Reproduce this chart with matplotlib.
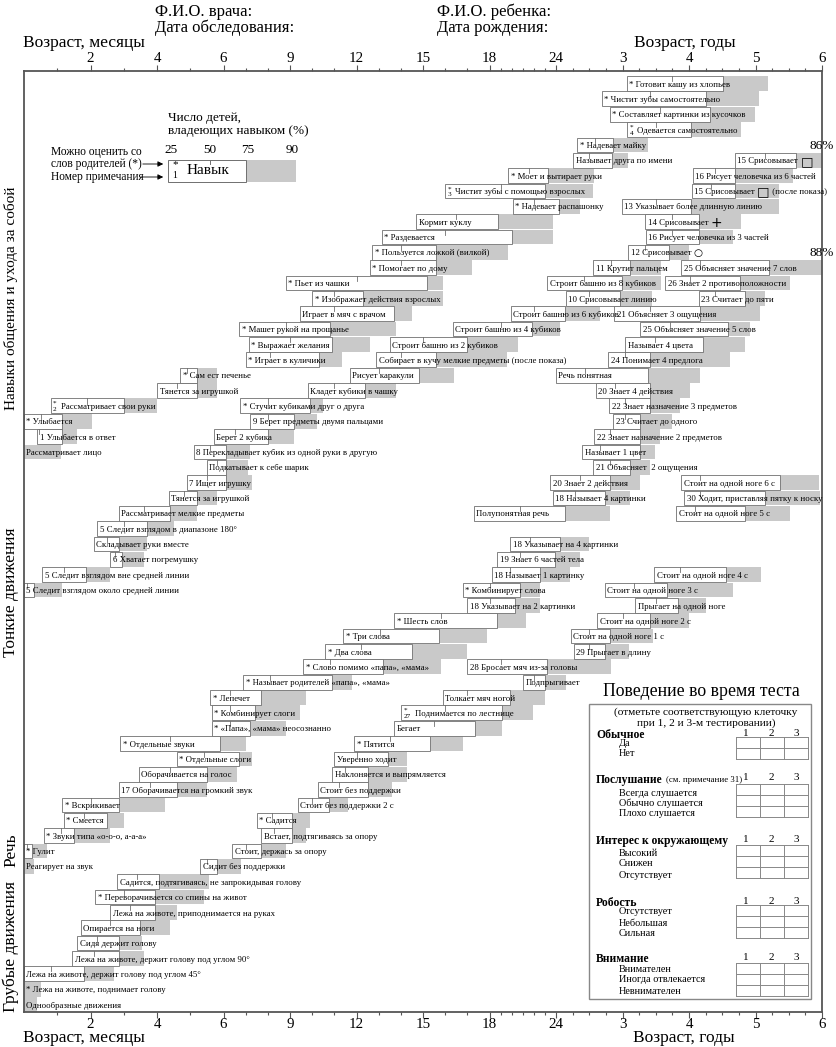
import numpy as np
import matplotlib
matplotlib.use('Agg')
import matplotlib.pyplot as plt
from matplotlib.patches import Rectangle

plt.rcParams['font.family'] = ['Liberation Serif', 'DejaVu Sans']

# ось возраста: месяцы до 2 лет, дальше годы (нелинейная шкала)
age_breaks = [0, 2, 4, 6, 9, 12, 15, 18, 24, 36, 48, 60, 72]
major_ticks = [2, 4, 6, 9, 12, 15, 18, 24, 36, 48, 60, 72]
major_labels = ['2', '4', '6', '9', '12', '15', '18', '24', '3', '4', '5', '6']
minor_ticks = [1, 3, 5, 7, 8, 10, 11, 13, 14, 16, 17, 19, 20, 21, 22, 23,
               27, 30, 33, 39, 42, 45, 51, 54, 57, 63, 66, 69]

# ---- Навыки общения и ухода за собой ----
ps_labels = ['* Готовит кашу из хлопьев', '* Чистит зубы самостоятельно',
             '* Составляет картинки из кусочков', '^4 Одевается самостоятельно',
             '* Надевает майку', 'Называет друга по имени', '* Моет и вытирает руки',
             '^3 Чистит зубы с помощью взрослых', '* Надевает распашонку', 'Кормит куклу',
             '* Раздевается', '* Пользуется ложкой (вилкой)', '* Помогает по дому',
             '* Пьет из чашки', '* Изображает действия взрослых', 'Играет в мяч с врачом',
             '* Машет рукой на прощанье', '* Выражает желания', '* Играет в куличики',
             '* Сам ест печенье', 'Тянется за игрушкой', '^2 Рассматривает свои руки',
             '* Улыбается', '1 Улыбается в ответ', 'Рассматривает лицо']
ps_rows = list(range(0, 25))
ps_p25 = [36.8, 32.3, 33.7, 36.8, 27.8, 27.1, 19.7, 16.0, 20.1, 14.7, 13.15, 12.7, 12.6,
          8.8, 10.0, 9.45, 6.7, 7.15, 7.0, 4.7, 4.0, 0.8, 0.0, 0.4, 0.0]
ps_p50 = [45.0, 41.0, 42.8, 42.0, 31.0, 30.0, 21.6, 19.0, 22.0, 16.5, 16.0, 14.0, 14.0,
          12.0, 11.0, 11.0, 8.8, 9.0, 8.1, 4.9, 4.6, 1.9, 0.5, 0.45, 0.0]
ps_p75 = [54.1, 51.1, 51.8, 48.4, 34.3, 34.1, 23.3, 23.0, 24.5, 18.8, 20.0, 15.6, 15.6,
          15.2, 12.3, 13.7, 10.8, 10.9, 10.3, 5.2, 5.2, 3.0, 1.15, 1.15, 0.0]
ps_p90 = [62.3, 60.6, 59.9, 57.4, 40.6, 37.0, 30.8, 30.7, 28.3, 23.7, 23.7, 19.7, 17.2,
          15.9, 15.9, 14.5, 13.8, 12.6, 11.35, 5.8, 5.8, 4.0, 2.05, 1.6, 1.1]

# ---- Тонкие движения ----
fm_labels = ['15 Срисовывает □', '16 Рисует человечка из 6 частей',
             '15 Срисовывает □ (после показа)', '13 Указывает более длинную линию',
             '14 Срисовывает +', '16 Рисует человечка из 3 частей', '12 Срисовывает ○',
             '11 Крутит пальцем', 'Строит башню из 8 кубиков', '10 Срисовывает линию',
             'Строит башню из 6 кубиков', 'Строит башню из 4 кубиков',
             'Строит башню из 2 кубиков', 'Собирает в кучу мелкие предметы (после показа)',
             'Рисует каракули', 'Кладет кубики в чашку', '* Стучит кубиками друг о друга',
             '9 Берет предметы двумя пальцами', 'Берет 2 кубика',
             '8 Перекладывает кубик из одной руки в другую', 'Подкатывает к себе шарик',
             '7 Ищет игрушку', 'Тянется за игрушкой', 'Рассматривает мелкие предметы',
             '5 Следит взглядом в диапазоне 180°', 'Складывает руки вместе',
             '6 Хватает погремушку', '5 Следит взглядом вне средней линии',
             '5 Следит взглядом около средней линии']
fm_rows = list(range(5, 34))
fm_p25 = [56.3, 48.7, 48.5, 35.9, 40.1, 40.2, 37.0, 30.7, 23.2, 25.8, 19.9, 16.35, 13.5,
          12.9, 11.7, 9.8, 6.75, 7.2, 5.7, 5.1, 5.5, 4.9, 4.35, 2.85, 2.2, 2.1, 2.6, 0.55, 0.0]
fm_p50 = [61.7, 52.7, 52.0, 42.0, 45.0, 45.0, 40.0, 34.0, 29.0, 30.0, 22.0, 19.0, 15.0,
          14.0, 13.0, 11.0, 8.0, 8.0, 6.5, 5.6, 5.8, 5.5, 4.8, 3.6, 3.0, 2.5, 2.75, 1.2, 0.1]
fm_p75 = [67.3, 56.3, 56.3, 48.4, 49.8, 49.8, 44.4, 37.4, 35.9, 35.5, 25.6, 21.85, 17.0,
          15.6, 14.8, 12.4, 9.9, 9.2, 8.0, 6.1, 6.1, 6.1, 5.2, 4.4, 3.7, 2.85, 2.95, 1.85, 0.3]
fm_p90 = [72.0, 66.8, 64.2, 64.2, 57.4, 56.0, 48.0, 43.0, 43.0, 41.3, 31.9, 24.7, 20.6,
          19.6, 16.4, 13.8, 10.5, 10.2, 9.2, 7.2, 7.1, 7.3, 5.8, 5.2, 4.5, 3.7, 3.6, 2.6, 1.15]

# ---- Речь ----
sp_labels = ['25 Объясняет значение 7 слов', '26 Знает 2 противоположности',
             '23 Считает до пяти', '21 Объясняет 3 ощущения', '25 Объясняет значение 5 слов',
             'Называет 4 цвета', '24 Понимает 4 предлога', 'Речь понятная',
             '20 Знает 4 действия', '22 Знает назначение 3 предметов', '23 Считает до одного',
             '22 Знает назначение 2 предметов', 'Называет 1 цвет', '21 Объясняет  2 ощущения',
             '20 Знает 2 действия', '18 Называет 4 картинки', 'Полупонятная речь',
             '18 Указывает на 4 картинки', '19 Знает 6 частей тела', '18 Называет 1 картинку',
             '* Комбинирует слова', '18 Указывает на 2 картинки', '* Шесть слов',
             '* Три слова', '* Два слова', '* Слово помимо «папа», «мама»',
             '* Называет родителей «папа», «мама»', '* Лепечет', '* Комбинирует слоги',
             '* «Папа», «мама» неосознанно', '* Отдельные звуки', '* Отдельные слоги',
             'Оборачивается на голос', '17 Оборачивается на громкий звук', '* Вскрикивает',
             '* Смеется', '* Звуки типа «о-о-о, а-а-а»', '* Гулит', 'Реагирует на звук']
sp_rows = list(range(12, 29)) + list(range(30, 52))
sp_p25 = [46.6, 43.7, 49.8, 34.5, 39.2, 36.5, 33.4, 24.0, 31.2, 33.6, 34.3, 30.9, 28.7,
          30.7, 23.5, 23.7, 17.3, 19.85, 18.7, 18.2, 16.8, 17.0, 13.7, 11.4, 10.6, 9.6,
          6.9, 5.6, 5.65, 5.65, 2.9, 4.6, 3.45, 2.85, 1.15, 1.2, 0.6, 0.0, 0.0]
sp_p50 = [50.0, 48.2, 52.7, 41.0, 44.6, 41.9, 36.5, 29.2, 34.6, 36.5, 36.5, 33.7, 31.9,
          33.7, 28.3, 27.4, 20.75, 21.65, 20.75, 19.85, 18.0, 18.0, 15.8, 13.05, 12.2,
          10.8, 8.1, 6.3, 6.3, 6.3, 4.4, 5.4, 4.4, 3.8, 2.0, 1.8, 1.1, 0.1, 0.0]
sp_p75 = [62.4, 57.2, 58.1, 50.0, 55.0, 50.5, 41.0, 40.6, 41.0, 41.0, 39.2, 39.2, 39.2,
          37.4, 33.7, 32.8, 25.6, 24.7, 23.9, 22.6, 20.75, 20.3, 18.7, 15.7, 14.5, 13.2,
          10.9, 7.7, 7.4, 7.2, 5.9, 6.7, 5.5, 4.6, 2.85, 2.5, 1.5, 0.25, 0.0]
sp_p90 = [72.0, 66.2, 61.7, 60.8, 59.0, 58.1, 55.4, 50.0, 48.2, 46.4, 44.9, 42.8, 41.9,
          41.0, 39.2, 37.4, 33.7, 30.0, 28.3, 26.5, 22.6, 22.6, 21.3, 17.9, 17.0, 15.8,
          11.8, 9.7, 9.45, 8.8, 7.0, 7.3, 6.6, 5.5, 4.25, 3.0, 2.6, 0.7, 0.3]

# ---- Грубые движения ----
gm_labels = ['Стоит на одной ноге 6 с', '30 Ходит, приставляя пятку к носку',
             'Стоит на одной ноге 5 с', 'Стоит на одной ноге 4 с', 'Стоит на одной ноге 3 с',
             'Прыгает на одной ноге', 'Стоит на одной ноге 2 с', 'Стоит на одной ноге 1 с',
             '29 Прыгает в длину', '28 Бросает мяч из-за головы', 'Подпрыгивает',
             'Толкает мяч ногой', '^27 Поднимается по лестнице', 'Бегает', '* Пятится',
             'Уверенно ходит', 'Наклоняется и выпрямляется', 'Стоит без поддержки',
             'Стоит без поддержки 2 с', '* Садится', 'Встает, подтягиваясь за опору',
             'Стоит, держась за опору', 'Сидит без поддержки',
             'Садится, подтягиваясь, не запрокидывая голову',
             '* Переворачивается со спины на живот', 'Лежа на животе, приподнимается на руках',
             'Опирается на ноги', 'Сидя держит голову',
             'Лежа на животе, держит голову под углом 90°',
             'Лежа на животе, держит голову под углом 45°',
             '* Лежа на животе, поднимает голову', 'Однообразные движения']
gm_rows = [26, 27, 28] + list(range(32, 61))
gm_p25 = [46.6, 47.1, 45.7, 41.7, 32.8, 38.3, 31.4, 26.7, 27.2, 17.0, 21.0, 15.9, 14.0,
          13.7, 11.9, 11.0, 10.9, 10.25, 9.35, 7.5, 7.7, 6.4, 5.3, 2.8, 2.15, 2.6, 1.7,
          1.6, 1.45, 0.0, 0.0, 0.0]
gm_p50 = [50.0, 50.0, 49.0, 46.4, 38.0, 42.0, 36.0, 30.0, 30.0, 19.0, 22.0, 17.0, 16.0,
          15.5, 13.5, 12.0, 11.5, 11.2, 10.0, 8.2, 8.3, 7.0, 5.5, 3.4, 3.0, 3.2, 2.6,
          2.2, 2.1, 0.8, 0.0, 0.0]
gm_p75 = [64.4, 61.7, 58.1, 54.7, 44.0, 46.0, 41.0, 33.7, 32.8, 23.2, 23.0, 19.85, 19.1,
          17.35, 15.3, 13.4, 12.5, 12.5, 10.75, 9.1, 9.1, 7.7, 5.8, 4.05, 3.95, 3.95, 3.5,
          2.85, 2.85, 1.8, 0.0, 0.0]
gm_p90 = [71.5, 71.6, 66.2, 61.0, 55.9, 51.0, 48.0, 41.5, 37.2, 33.9, 25.8, 23.0, 21.9,
          19.1, 16.8, 14.3, 14.3, 13.6, 11.6, 9.9, 9.7, 8.8, 6.8, 5.55, 5.4, 4.6, 4.4,
          3.55, 3.6, 2.7, 0.5, 0.4]

sections = [
    (ps_labels, ps_rows, ps_p25, ps_p50, ps_p75, ps_p90),
    (fm_labels, fm_rows, fm_p25, fm_p50, fm_p75, fm_p90),
    (sp_labels, sp_rows, sp_p25, sp_p50, sp_p75, sp_p90),
    (gm_labels, gm_rows, gm_p25, gm_p50, gm_p75, gm_p90),
]

GRAY = '#c9c9c9'
EDGE = '#6f6f6f'
BOX_H = 0.96
FS = 6.3
DY = -0.8  # небольшой сдвиг подписи вниз, чтобы буквы сидели по центру рамки
ICON_FS = {'□': 9.5, '○': 7.5, '+': 10}


def fwd(x):
    return np.interp(x, age_breaks, np.arange(len(age_breaks)))


def inv(u):
    return np.interp(u, np.arange(len(age_breaks)), age_breaks)


W, H = 836, 1047
fig = plt.figure(figsize=(W / 100, H / 100), dpi=100)
renderer = fig.canvas.get_renderer()
ax = fig.add_axes([24 / W, 1 - 1012 / H, (822 - 24) / W, (1012 - 71) / H])
ax.set_xscale('function', functions=(fwd, inv))
ax.set_xlim(0, 72)
row0, row_px = 83.5, 15.35
ax.set_ylim((1012 - row0) / row_px, (71 - row0) / row_px)

ax.set_xticks(major_ticks)
ax.set_xticklabels(major_labels)
ax.set_xticks(minor_ticks, minor=True)
ax.tick_params(axis='x', which='both', top=True, bottom=True, labeltop=True,
               labelbottom=True, direction='out', color='#555555', labelsize=10.8, pad=0.3)
ax.tick_params(axis='x', which='major', length=4.2, width=0.8)
ax.tick_params(axis='x', which='minor', length=2.4, width=0.8)
ax.set_yticks([])
for s in ax.spines.values():
    s.set_color('#555555')
    s.set_linewidth(1.3)


def put_text(txt, a, r, dx, fs=FS, **kw):
    t = ax.annotate(txt, xy=(a, r), xytext=(dx, DY), textcoords='offset points',
                    ha='left', va='center', fontsize=fs, zorder=4, **kw)
    return dx + t.get_window_extent(renderer).width * 72 / fig.dpi


def draw_items(labels, rows, p25, p50, p75, p90):
    for lab, r, a, b, c, d in zip(labels, rows, p25, p50, p75, p90):
        top = r - BOX_H / 2
        if d > c:
            ax.add_patch(Rectangle((c, top), d - c, BOX_H, facecolor=GRAY,
                                   edgecolor='none', zorder=1))
        if c > a:
            ax.add_patch(Rectangle((a, top), c - a, BOX_H, facecolor='white',
                                   edgecolor=EDGE, lw=0.6, zorder=2))
            ax.plot([b, b], [top, top + 0.33], color=EDGE, lw=0.6, zorder=3)
        dx = 1.8
        if lab.startswith('^'):
            num, lab = lab[1:].split(' ', 1)
            ax.annotate('*', xy=(a, r), xytext=(dx, 1.6), textcoords='offset points',
                        ha='left', va='center', fontsize=5.2, zorder=4)
            ax.annotate(num, xy=(a, r), xytext=(dx, -2.9), textcoords='offset points',
                        ha='left', va='center', fontsize=5.2, zorder=4)
            dx = 4.5 + 2.7 * len(num)
        icon = next((ch for ch in ICON_FS if ' ' + ch in lab), None)
        if icon is None:
            put_text(lab, a, r, dx)
        else:
            head, tail = lab.split(' ' + icon, 1)
            dx = put_text(head, a, r, dx) + 1.5
            dx = put_text(icon, a, r, dx, fs=ICON_FS[icon], family=['DejaVu Sans'])
            if tail:
                put_text(tail, a, r, dx)


for sec in sections:
    draw_items(*sec)

ax.text(72, 4.1, '86%', ha='center', va='center', fontsize=9.5, clip_on=False)
ax.text(72, 11.05, '88%', ha='center', va='center', fontsize=9.5, clip_on=False)

# ---- надписи вокруг графика (в пикселях картинки) ----
ov = fig.add_axes([0, 0, 1, 1], zorder=5)
ov.set_xlim(0, W)
ov.set_ylim(H, 0)
ov.axis('off')

ov.text(155, 12, 'Ф.И.О. врача:', fontsize=12, va='center')
ov.text(155, 28, 'Дата обследования:', fontsize=12, va='center')
ov.text(437, 12, 'Ф.И.О. ребенка:', fontsize=12, va='center')
ov.text(437, 28, 'Дата рождения:', fontsize=12, va='center')
ov.text(23, 43, 'Возраст, месяцы', fontsize=12.5, va='center')
ov.text(634, 43, 'Возраст, годы', fontsize=12.5, va='center')
ov.text(23, 1038, 'Возраст, месяцы', fontsize=12.5, va='center')
ov.text(633, 1038, 'Возраст, годы', fontsize=12.5, va='center')

for txt, yc, fs in [('Навыки общения и ухода за собой', 298, 11),
                    ('Тонкие движения', 592, 12.5),
                    ('Речь', 850, 12.5), ('Грубые движения', 947, 12.5)]:
    ov.text(11, yc, txt, rotation=90, ha='center', va='center', fontsize=fs)

# легенда
ov.text(168, 118, 'Число детей,', fontsize=9.5, va='center')
ov.text(168, 131, 'владеющих навыком (%)', fontsize=9.5, va='center')
for t, xc in [('25', 171), ('50', 210), ('75', 248), ('90', 292)]:
    ov.text(xc, 150, t, fontsize=9.5, ha='center', va='center')
ov.add_patch(Rectangle((246, 160), 50, 22, facecolor=GRAY, edgecolor='none'))
ov.add_patch(Rectangle((168, 160), 78, 22, facecolor='white', edgecolor=EDGE, lw=0.7))
ov.plot([210, 210], [160, 164], color=EDGE, lw=0.7)
ov.text(172, 165, '*', fontsize=8, va='center')
ov.text(172, 176, '1', fontsize=7, va='center')
ov.text(187, 171, 'Навык', fontsize=11, va='center')
ov.text(51, 152, 'Можно оценить со', fontsize=8.3, va='center')
ov.text(51, 164, 'слов родителей (*)', fontsize=8.3, va='center')
ov.text(51, 177, 'Номер примечания', fontsize=8.3, va='center')
for y0, x0 in [(164, 140), (177, 138)]:
    ov.annotate('', xy=(166, y0), xytext=(x0, y0),
                arrowprops=dict(arrowstyle='-|>', color='black', lw=0.6,
                                mutation_scale=8))

# поведение во время теста
ov.text(701, 692, 'Поведение во время теста', fontsize=12.8, ha='center', va='center')
ov.add_patch(Rectangle((589, 704), 222, 295, facecolor='white', edgecolor='#888888', lw=1.0))
ov.text(706, 712, '(отметьте соответствующую клеточку', fontsize=8.2, ha='center', va='center')
ov.text(706, 723, 'при 1, 2 и 3-м тестировании)', fontsize=8.2, ha='center', va='center')

groups = [('Обычное', 735, 737, ['Да', 'Нет'], [744, 754]),
          ('Послушание', 780, 784, ['Всегда слушается', 'Обычно слушается', 'Плохо слушается'],
           [793, 803, 814]),
          ('Интерес к окружающему', 841, 845, ['Высокий', 'Снижен', 'Отсутствует'],
           [853, 864, 875]),
          ('Робость', 903, 905, ['Отсутствует', 'Небольшая', 'Сильная'], [912, 923, 934]),
          ('Внимание', 959, 963, ['Внимателен', 'Иногда отвлекается', 'Невнимателен'],
           [969, 980, 992])]
cols = [736, 760, 784, 808]
for head, hy, gy, subs, sys_ in groups:
    ht = ov.text(596, hy, head, fontsize=8.4, fontweight='bold', va='center')
    if head == 'Послушание':
        w = ht.get_window_extent(renderer).width
        ov.text(596 + w + 3, hy, '(см. примечание 31)', fontsize=6.3, va='center')
    for n, xc in zip(['1', '2', '3'], [746, 771, 796]):
        ov.text(xc, hy - 2, n, fontsize=8, ha='center', va='center')
    for s, sy in zip(subs, sys_):
        ov.text(619, sy, s, fontsize=7.4, va='center')
    nrow = len(subs)
    for k in range(nrow + 1):
        ov.plot([cols[0], cols[-1]], [gy + 11 * k, gy + 11 * k], color='#888888', lw=0.7)
    for cx in cols:
        ov.plot([cx, cx], [gy, gy + 11 * nrow], color='#888888', lw=0.7)

fig.savefig('out.png', dpi=100)
